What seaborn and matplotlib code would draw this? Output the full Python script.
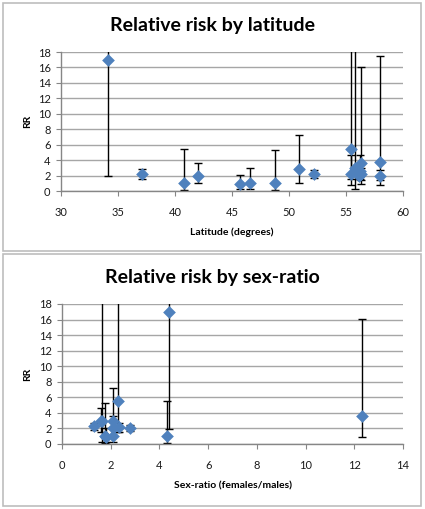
import numpy as np
import seaborn as sns
import matplotlib.pyplot as plt
from matplotlib.patches import Rectangle

# latitude panel: point estimate and confidence limits
lat = [34.1, 37.1, 40.8, 42.0, 45.7, 46.6, 48.8, 50.9, 52.2,
       55.4, 55.4, 55.8, 56.1, 56.2, 56.3, 56.3, 58.0, 58.0]
lat_rr = [17.0, 2.2, 1.0, 2.0, 0.85, 1.0, 1.0, 2.9, 2.2,
          5.5, 2.2, 3.0, 2.0, 2.6, 3.6, 2.2, 3.7, 2.0]
lat_lo = [1.9, 1.6, 0.1, 1.0, 0.3, 0.25, 0.1, 1.0, 1.7,
          1.5, 0.8, 0.2, 1.6, 1.6, 0.9, 1.4, 0.8, 1.4]
lat_hi = [30, 2.9, 5.5, 3.6, 2.1, 3.0, 5.3, 7.2, 2.7,
          30, 4.7, 30, 2.6, 4.6, 16.1, 3.0, 17.5, 2.7]

# sex-ratio panel
sr = [1.3, 1.6, 1.65, 1.75, 1.8, 2.1, 2.1, 2.1, 2.3, 2.35, 2.8, 4.3, 4.4, 12.3]
sr_rr = [2.3, 2.9, 3.0, 1.0, 0.85, 1.0, 2.9, 2.0, 5.5, 2.2, 2.0, 1.0, 17.0, 3.6]
sr_lo = [1.8, 1.6, 0.2, 0.1, 0.3, 0.25, 1.0, 1.0, 1.5, 1.5, 1.7, 0.1, 1.9, 0.9]
sr_hi = [2.7, 4.6, 30, 5.3, 2.1, 3.0, 7.2, 3.6, 30, 2.7, 2.4, 5.5, 30, 16.1]

W, H = 425, 509
BLUE = '#4f81bd'
plt.rcParams['font.family'] = ['Lato', 'DejaVu Sans']

fig = plt.figure(figsize=(W / 100, H / 100), dpi=100)


def fx(px):
    return px / W


def fy(py):
    return 1 - py / H


def panel(box, ax_box, x, rr, lo, hi, xlim, xstep, title, title_y, xlabel):
    # panel border
    x0, y0, x1, y1 = box
    fig.patches.append(Rectangle((fx(x0), fy(y1)), fx(x1 - x0), (y1 - y0) / H,
                                 transform=fig.transFigure, fill=False,
                                 edgecolor='#bdbdbd', lw=1.2))
    fig.text(fx((x0 + x1) / 2), fy(title_y), title, ha='center', va='center',
             fontsize=14, fontweight='bold')

    l, t, r, b = ax_box
    ax = fig.add_axes([fx(l), fy(b), fx(r - l), (b - t) / H])
    rr = np.array(rr)
    yerr = [rr - np.array(lo), np.array(hi) - rr]
    ax.errorbar(x, rr, yerr=yerr, fmt='none', ecolor='black', elinewidth=1,
                capsize=2.8, capthick=1, zorder=2)
    sns.scatterplot(x=x, y=rr, ax=ax, marker='D', s=42, color=BLUE,
                    edgecolor=BLUE, linewidth=0, zorder=3)

    ax.set_xlim(*xlim)
    ax.set_ylim(0, 18)
    ax.set_xticks(np.arange(xlim[0], xlim[1] + 0.1, xstep))
    ax.set_yticks(np.arange(0, 19, 2))
    ax.grid(axis='y', color='#a6a6a6', lw=1)
    ax.grid(axis='x', visible=False)
    ax.set_axisbelow(True)
    for s in ['top', 'right']:
        ax.spines[s].set_visible(False)
    for s in ['left', 'bottom']:
        ax.spines[s].set_color('#868686')
        ax.spines[s].set_linewidth(1)
    ax.tick_params(axis='both', length=3.5, color='#868686', labelsize=8,
                   labelcolor='#1a1a1a')
    ax.tick_params(axis='x', pad=8)
    ax.tick_params(axis='y', pad=4)
    ax.set_facecolor('white')

    ax.set_xlabel(xlabel, fontsize=7.5, fontweight='bold')
    ax.set_ylabel('RR', fontsize=7.5, fontweight='bold')
    ax.xaxis.set_label_coords(0.5, -0.3)
    ax.yaxis.set_label_coords(-(l - 28) / (r - l), 0.5)
    ax.xaxis.label.set_va('center')
    ax.yaxis.label.set_va('center')
    return ax


panel((3, 3, 421, 251), (61, 52, 403, 191), lat, lat_rr, lat_lo, lat_hi,
      (30, 60), 5, 'Relative risk by latitude', 25, 'Latitude (degrees)')
panel((3, 254, 421, 506), (62, 304, 403, 444), sr, sr_rr, sr_lo, sr_hi,
      (0, 14), 2, 'Relative risk by sex-ratio', 278, 'Sex-ratio (females/males)')

fig.savefig('out.png', dpi=100, facecolor='white')
